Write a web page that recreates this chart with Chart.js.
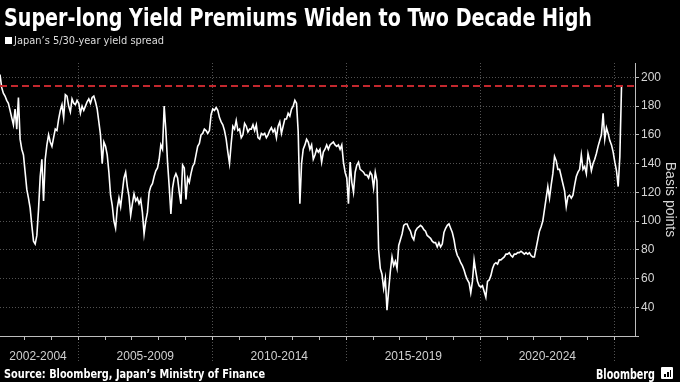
<!DOCTYPE html>
<html>
<head>
<meta charset="utf-8">
<script src="https://cdn.jsdelivr.net/npm/chart.js@4.4.1/dist/chart.umd.min.js"></script>
<style>
  html, body { margin: 0; padding: 0; background: #000; }
  body { width: 680px; height: 382px; position: relative; overflow: hidden; font-family: "Liberation Sans", Arial, sans-serif; }
  #chart { position: absolute; left: 0; top: 0; }
  .txt { position: absolute; white-space: nowrap; transform-origin: 0 0; line-height: 1; }
  #title { left: 4px; top: 6px; color: #fff; font-weight: bold; font-size: 24px; font-stretch: condensed; font-family: "DejaVu Sans Condensed", "DejaVu Sans", sans-serif; }
  #legendBox { position: absolute; left: 5px; top: 37px; width: 7px; height: 7px; background: #fff; }
  #legendText { left: 14px; top: 35px; color: #ddd; font-size: 11px; font-family: "Liberation Sans Narrow", "DejaVu Sans Condensed", "Liberation Sans", sans-serif; }
  #source { left: 4px; top: 369px; color: #fff; font-weight: bold; font-size: 11.5px; font-stretch: condensed; font-family: "DejaVu Sans Condensed", "DejaVu Sans", sans-serif; }
  #brand { left: 596px; top: 367px; color: #fff; font-size: 14px; font-weight: bold; font-family: "Liberation Sans Narrow", "DejaVu Sans Condensed", "Liberation Sans", sans-serif; }
  #logo { position: absolute; left: 661px; top: 367px; width: 12px; height: 12px; background: #fff; border-radius: 1px; }
  #logo i { position: absolute; bottom: 2px; width: 2px; background: #000; }
</style>
</head>
<body>
<canvas id="chart" width="680" height="382"></canvas>
<div id="title" class="txt">Super-long Yield Premiums Widen to Two Decade High</div>
<div id="legendBox"></div>
<div id="legendText" class="txt">Japan’s 5/30-year yield spread</div>
<div id="source" class="txt">Source: Bloomberg, Japan’s Ministry of Finance</div>
<div id="brand" class="txt">Bloomberg</div>
<div id="logo"><i style="left:3px;height:3px"></i><i style="left:6px;height:5px"></i><i style="left:9px;height:7px;width:1px"></i></div>
<script>
// ---- data ----
const seriesName = "Japan’s 5/30-year yield spread";
const startYear = 2002.08;      // first observation (decimal year)
const stepYears = 1 / 16;       // spacing between observations
const spreadValues = [
  202,193,189,187,184,182,177,172,167,178,
  164,186,157,150,146,134,122,116,109,97,
  86,84,90,108,131,143,114,143,153,160,
  155,152,158,164,163,171,177,181,172,188,
  187,180,176,185,182,181,184,182,175,180,
  177,180,183,185,182,186,187,183,178,169,
  160,140,155,152,146,134,118,111,100,95,
  109,116,110,120,130,134,124,117,104,112,
  119,114,116,112,115,106,91,100,106,120,
  124,126,131,135,137,143,153,150,180,163,
  141,124,105,123,130,133,130,120,112,139,
  137,115,130,127,133,138,140,146,152,154,
  160,161,164,163,161,163,174,178,177,179,
  177,172,169,167,163,157,148,140,154,166,
  164,170,163,164,158,160,168,166,162,164,
  164,167,163,167,158,157,161,160,161,158,
  160,163,165,162,164,158,166,169,161,166,
  171,171,175,173,178,180,184,182,162,112,
  140,150,153,157,155,150,153,143,146,150,
  148,150,141,148,150,153,150,153,154,155,
  153,152,153,150,153,141,134,130,112,141,
  127,120,134,139,141,136,135,134,132,132,
  130,134,132,123,134,128,80,67,63,53,
  60,38,52,65,75,69,72,67,83,87,
  91,97,98,98,95,93,89,87,93,95,
  96,97,96,94,93,90,89,88,86,85,
  85,82,85,82,84,92,95,97,98,95,
  92,87,80,76,74,71,69,66,62,59,
  57,50,58,73,65,58,55,54,55,51,
  47,58,59,62,67,70,71,70,73,73,
  74,75,77,77,78,76,75,77,77,78,
  78,79,78,77,78,77,78,76,75,75,
  81,87,93,96,100,108,116,124,116,125,
  133,145,142,136,136,131,126,121,110,117,
  118,116,118,125,131,134,136,146,136,138,
  133,147,142,135,140,143,147,152,156,160,
  175,157,165,161,156,153,148,141,135,124,
  145,194
];
const thresholdValue = 194;   // red dashed reference level
const periodLabels = ["2002-2004", "2005-2009", "2010-2014", "2015-2019", "2020-2024"];
const periodCenters = [2003.5, 2007.5, 2012.5, 2017.5, 2022.5];
const periodBoundaries = [2005, 2010, 2015, 2020, 2025];
const yearTicks = [2003,2004,2005,2006,2007,2008,2009,2010,2011,2012,2013,2014,2015,2016,2017,2018,2019,2020,2021,2022,2023,2024,2025];
const yTickLabels = [40, 60, 80, 100, 120, 140, 160, 180, 200];
const yAxisTitle = "Basis points";
const xRange = [2002.08, 2025.77];
const yRange = [20, 210];

// ---- chart ----
const gridCol = "rgba(255,255,255,0.32)";
const axisCol = "#bdbdbd";
const points = spreadValues.map((v, i) => ({ x: startYear + i * stepYears, y: v }));

new Chart(document.getElementById("chart"), {
  type: "line",
  data: {
    datasets: [
      {
        label: "threshold",
        data: [{ x: xRange[0], y: thresholdValue }, { x: xRange[1], y: thresholdValue }],
        borderColor: "#c3282e",
        borderWidth: 2,
        borderDash: [7, 4],
        pointRadius: 0
      },
      {
        label: seriesName,
        data: points,
        borderColor: "#ffffff",
        borderWidth: 1.6,
        pointRadius: 0,
        tension: 0
      }
    ]
  },
  options: {
    responsive: false,
    animation: false,
    devicePixelRatio: 1,
    layout: { padding: { top: 63, left: 0, right: 0, bottom: 16 } },
    plugins: { legend: { display: false }, tooltip: { enabled: false }, title: { display: false } },
    scales: {
      x: {
        type: "linear",
        position: "bottom",
        weight: 0,
        min: xRange[0],
        max: xRange[1],
        afterBuildTicks: ax => { ax.ticks = yearTicks.map(v => ({ value: v })); },
        afterFit: ax => { ax.height = 0; },
        ticks: { display: false },
        grid: {
          color: ctx => periodBoundaries.includes(ctx.tick && ctx.tick.value) ? gridCol : "rgba(0,0,0,0)",
          tickColor: axisCol,
          tickLength: 4,
          tickWidth: 1
        },
        border: { display: true, color: axisCol, width: 1, dash: [1, 2] }
      },
      x2: {
        type: "linear",
        position: "bottom",
        weight: 1,
        min: xRange[0],
        max: xRange[1],
        afterBuildTicks: ax => {
          ax.ticks = periodBoundaries.map(v => ({ value: v })).concat(periodCenters.map(v => ({ value: v })));
        },
        afterFit: ax => { ax.height = 30; },
        ticks: {
          autoSkip: false,
          maxRotation: 0,
          padding: -13,
          color: "#d0d0d0",
          font: { family: "Liberation Sans", size: 12 },
          callback: (v) => { const k = periodCenters.indexOf(v); return k >= 0 ? periodLabels[k] : ""; }
        },
        grid: {
          drawOnChartArea: false,
          tickLength: 26,
          tickColor: ctx => periodBoundaries.includes(ctx.tick && ctx.tick.value) ? gridCol : "rgba(0,0,0,0)",
          tickBorderDash: [1, 2]
        },
        border: { display: false }
      },
      y: {
        type: "linear",
        position: "right",
        min: yRange[0],
        max: yRange[1],
        afterFit: ax => { ax.width = 45; },
        ticks: {
          stepSize: 10,
          padding: 2,
          color: "#d6d6d6",
          font: { family: "Liberation Sans", size: 12 },
          callback: v => yTickLabels.includes(v) ? String(v) : ""
        },
        grid: {
          color: ctx => yTickLabels.includes(ctx.tick && ctx.tick.value) ? gridCol : "rgba(0,0,0,0)",
          tickColor: axisCol,
          tickLength: 4
        },
        border: { display: true, color: axisCol, width: 1, dash: [1, 2] },
        title: {
          display: true,
          text: yAxisTitle,
          color: "#d6d6d6",
          font: { family: "Liberation Sans", size: 14 },
          padding: { top: 2, bottom: 2 }
        }
      }
    }
  }
});

// fit text widths to the reference layout
function fitWidth(id, w) {
  const el = document.getElementById(id);
  const r = el.getBoundingClientRect().width;
  if (r > 0) el.style.transform = "scaleX(" + (w / r) + ")";
}
fitWidth("title", 588);
fitWidth("legendText", 150);
fitWidth("source", 261);
fitWidth("brand", 59);
</script>
</body>
</html>
